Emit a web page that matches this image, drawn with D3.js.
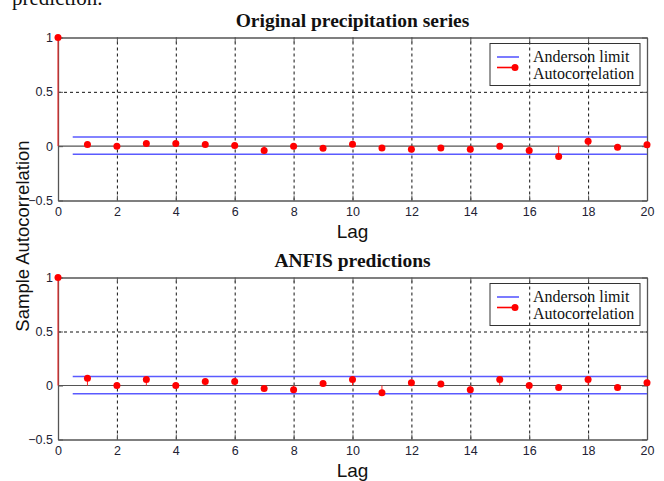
<!DOCTYPE html>
<html>
<head>
<meta charset="utf-8">
<script src="https://cdn.jsdelivr.net/npm/d3@7"></script>
<style>
  body { margin: 0; background: #fff; }
  svg { display: block; }
</style>
</head>
<body>
<div id="chart"></div>
<script>
// data
const lags = d3.range(0, 21);
const acfOriginal = [1, 0.015, 0, 0.025, 0.025, 0.015, 0.006, -0.04, 0, -0.02, 0.018,
                     -0.018, -0.028, -0.018, -0.028, 0, -0.04, -0.095, 0.046, -0.01, 0.012];
const acfAnfis = [1, 0.068, 0, 0.055, 0, 0.037, 0.037, -0.028, -0.04, 0.018, 0.055,
                  -0.068, 0.025, 0.015, -0.04, 0.055, 0, -0.018, 0.055, -0.018, 0.025];
const limitsOriginal = [0.085, -0.075];
const limitsAnfis = [0.083, -0.077];
const limitRange = [0.5, 20];
const xTicks = [0, 2, 4, 6, 8, 10, 12, 14, 16, 18, 20];
const yTicks = [-0.5, 0, 0.5, 1];
const titles = ['Original precipitation series', 'ANFIS predictions'];
const legendLabels = ['Anderson limit', 'Autocorrelation'];

const w = 664;
const h = 481;
const left = 58;
const right = 647;

const svg = d3.select('#chart').append('svg')
  .attr('width', w)
  .attr('height', h);

// clipped text from the page above the figure
svg.append('text')
  .attr('x', 12)
  .attr('y', 5)
  .attr('font-family', 'Liberation Serif, Times New Roman, serif')
  .attr('font-size', 21)
  .attr('fill', '#111')
  .text('prediction.');

svg.append('text')
  .attr('transform', 'translate(28.5,236) rotate(-90)')
  .attr('text-anchor', 'middle')
  .attr('font-family', 'Liberation Sans, Arial, sans-serif')
  .attr('font-size', 18.5)
  .attr('fill', '#111')
  .text('Sample Autocorrelation');

const xScale = d3.scaleLinear([0, 20], [left, right]);

function panel(top, bottom, title, values, limits) {
  const yScale = d3.scaleLinear([-0.5, 1], [bottom, top]);
  const g = svg.append('g');
  const sans = 'Liberation Sans, Arial, sans-serif';

  // dashed grid
  g.append('g')
    .attr('transform', 'translate(0,' + bottom + ')')
    .call(d3.axisBottom(xScale).tickValues(xTicks.slice(1, -1)).tickSize(-(bottom - top)).tickFormat(''))
    .call(s => s.select('.domain').remove())
    .call(s => s.selectAll('.tick line').attr('stroke', '#111').attr('stroke-dasharray', '3,3'));
  g.append('g')
    .attr('transform', 'translate(' + left + ',0)')
    .call(d3.axisLeft(yScale).tickValues([0.5]).tickSize(-(right - left)).tickFormat(''))
    .call(s => s.select('.domain').remove())
    .call(s => s.selectAll('.tick line').attr('stroke', '#111').attr('stroke-dasharray', '3,3'));

  // zero line
  g.append('line')
    .attr('x1', left).attr('x2', right)
    .attr('y1', yScale(0)).attr('y2', yScale(0))
    .attr('stroke', '#555').attr('stroke-width', 1.2);

  // axes with inward ticks
  const styleAxis = s => {
    s.select('.domain').attr('stroke', '#555').attr('stroke-width', 1.3);
    s.selectAll('.tick line').attr('stroke', '#555');
    s.selectAll('.tick text').attr('font-family', sans).attr('font-size', 12.5).attr('fill', '#223');
  };
  g.append('g')
    .attr('transform', 'translate(0,' + bottom + ')')
    .call(d3.axisBottom(xScale).tickValues(xTicks).tickSize(-5).tickSizeOuter(0).tickPadding(7))
    .call(styleAxis);
  g.append('g')
    .attr('transform', 'translate(0,' + top + ')')
    .call(d3.axisTop(xScale).tickValues(xTicks).tickSize(-5).tickSizeOuter(0).tickFormat(''))
    .call(styleAxis);
  g.append('g')
    .attr('transform', 'translate(' + left + ',0)')
    .call(d3.axisLeft(yScale).tickValues(yTicks).tickSize(-5).tickSizeOuter(0).tickPadding(5).tickFormat(d3.format('')))
    .call(styleAxis);
  g.append('g')
    .attr('transform', 'translate(' + right + ',0)')
    .call(d3.axisRight(yScale).tickValues(yTicks).tickSize(-5).tickSizeOuter(0).tickFormat(''))
    .call(styleAxis);

  // Anderson limits
  limits.forEach(v => {
    g.append('line')
      .attr('x1', xScale(limitRange[0])).attr('x2', xScale(limitRange[1]))
      .attr('y1', yScale(v)).attr('y2', yScale(v))
      .attr('stroke', '#5a5aff').attr('stroke-width', 1.6);
  });

  // stems
  g.selectAll('.stem').data(lags).join('line')
    .attr('x1', d => xScale(d)).attr('x2', d => xScale(d))
    .attr('y1', yScale(0)).attr('y2', d => yScale(values[d]))
    .attr('stroke', '#ff2020').attr('stroke-width', 1);
  g.selectAll('.dot').data(lags).join('circle')
    .attr('cx', d => xScale(d))
    .attr('cy', d => yScale(values[d]))
    .attr('r', 3.5)
    .attr('fill', '#ff0000');

  // title and x label
  g.append('text')
    .attr('x', (left + right) / 2)
    .attr('y', top - 10.5)
    .attr('text-anchor', 'middle')
    .attr('font-family', 'Liberation Serif, Times New Roman, serif')
    .attr('font-weight', 'bold')
    .attr('font-size', 19.5)
    .attr('fill', '#111')
    .text(title);
  g.append('text')
    .attr('x', (left + right) / 2)
    .attr('y', bottom + 37.5)
    .attr('text-anchor', 'middle')
    .attr('font-family', sans)
    .attr('font-size', 19)
    .attr('fill', '#111')
    .text('Lag');

  // legend (no fill, grid shows through)
  const lg = g.append('g').attr('transform', 'translate(490,' + (top + 6) + ')');
  lg.append('rect')
    .attr('width', 150).attr('height', 42)
    .attr('fill', 'none').attr('stroke', '#333').attr('stroke-width', 1);
  lg.append('line')
    .attr('x1', 7).attr('x2', 29).attr('y1', 13.5).attr('y2', 13.5)
    .attr('stroke', '#5a5aff').attr('stroke-width', 1.6);
  lg.append('line')
    .attr('x1', 7).attr('x2', 25).attr('y1', 24).attr('y2', 24)
    .attr('stroke', '#ff0000').attr('stroke-width', 1.6);
  lg.append('circle')
    .attr('cx', 25).attr('cy', 24).attr('r', 3.5).attr('fill', '#ff0000');
  lg.selectAll('.lab').data(legendLabels).join('text')
    .attr('x', 43)
    .attr('y', (d, i) => 18 + i * 17)
    .attr('font-family', 'Liberation Serif, Times New Roman, serif')
    .attr('font-size', 16)
    .attr('fill', '#111')
    .text(d => d);
}

panel(37.5, 200.5, titles[0], acfOriginal, limitsOriginal);
panel(277.5, 439.5, titles[1], acfAnfis, limitsAnfis);
</script>
</body>
</html>
